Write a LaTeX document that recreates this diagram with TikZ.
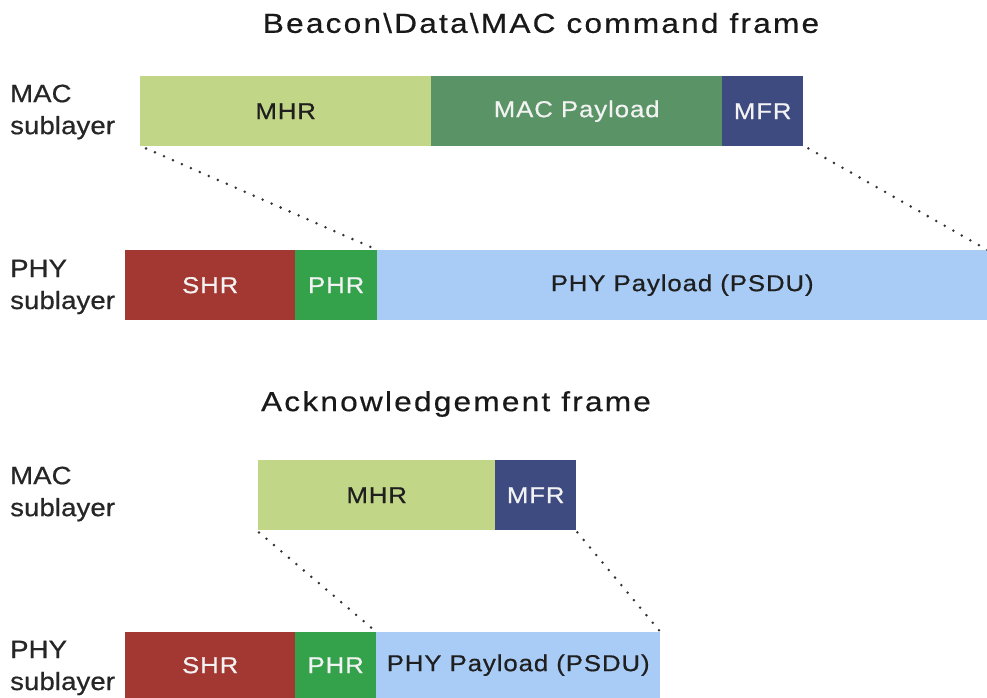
\documentclass[tikz,border=0pt]{standalone}
\usepackage{fontspec}
\setmainfont{Liberation Sans}
\newfontfamily\boxfont[FakeStretch=1.12,LetterSpace=4,FakeBold=0.6]{Liberation Sans}
\newfontfamily\labelfont[FakeStretch=1.1,LetterSpace=0.5,FakeBold=0.6]{Liberation Sans}
\newfontfamily\headfont[FakeStretch=1.15,LetterSpace=8,FakeBold=0.5]{Liberation Sans}
\begin{document}
\begin{tikzpicture}[x=1pt,y=-1pt,
  seg/.style={rectangle, draw=none, inner sep=0pt, anchor=north west,
    font=\boxfont\fontsize{23}{28}\selectfont},
  lightseg/.style={seg, text=black!88},
  darkseg/.style={seg, text=white!95!black},
  layerlabel/.style={anchor=west, align=left, inner sep=0pt,
    font=\labelfont\fontsize{25}{32}\selectfont, text=black!85},
  heading/.style={inner sep=0pt, font=\headfont\fontsize{27.5}{32}\selectfont, text=black!90},
  link/.style={draw=black!80, line width=2.8pt, line cap=round,
    dash pattern=on 0pt off 9.8pt}]
\definecolor{mhrC}{HTML}{C2D687}
\definecolor{payC}{HTML}{5A9466}
\definecolor{mfrC}{HTML}{3D4B80}
\definecolor{shrC}{HTML}{A33731}
\definecolor{phrC}{HTML}{33A24A}
\definecolor{psduC}{HTML}{A9CCF7}
\useasboundingbox (0,0) rectangle (987,698);
\fill[white] (0,0) rectangle (987,698);

% Beacon / data / MAC command frame
\node[heading] (t1) at (541,23) {Beacon\textbackslash Data\textbackslash MAC command frame};
\node[layerlabel] (mac1) at (10,112) {MAC\\sublayer};
\node[lightseg, fill=mhrC, minimum width=291pt, minimum height=70pt] (mhr1) at (140,76) {MHR};
\node[darkseg, fill=payC, minimum width=291pt, minimum height=70pt] (pay1) at (431,76) {MAC Payload};
\node[darkseg, fill=mfrC, minimum width=81pt, minimum height=70pt] (mfr1) at (722,76) {MFR};

\node[layerlabel] (phy1) at (10,287) {PHY\\sublayer};
\node[darkseg, fill=shrC, minimum width=170pt, minimum height=70pt] (shr1) at (125,250) {SHR};
\node[darkseg, fill=phrC, minimum width=82pt, minimum height=70pt] (phr1) at (295,250) {PHR};
\node[lightseg, fill=psduC, minimum width=610pt, minimum height=70pt] (psdu1) at (377,250) {PHY Payload (PSDU)};

\draw[link] ([xshift=6pt,yshift=-2pt]mhr1.south west) -- (phr1.north east);
\draw[link] ([xshift=5pt,yshift=-2pt]mfr1.south east) -- (psdu1.north east);

% Acknowledgement frame
\node[heading] (t2) at (456,404) {Acknowledgement frame};
\node[layerlabel] (mac2) at (10,494) {MAC\\sublayer};
\node[lightseg, fill=mhrC, minimum width=237pt, minimum height=70pt] (mhr2) at (258,460) {MHR};
\node[darkseg, fill=mfrC, minimum width=81pt, minimum height=70pt] (mfr2) at (495,460) {MFR};

\node[layerlabel] (phy2) at (10,668) {PHY\\sublayer};
\node[darkseg, fill=shrC, minimum width=170pt, minimum height=66pt] (shr2) at (125,632) {SHR};
\node[darkseg, fill=phrC, minimum width=81pt, minimum height=66pt] (phr2) at (295,632) {PHR};
\node[lightseg, fill=psduC, minimum width=284pt, minimum height=66pt] (psdu2) at (376,632) {PHY Payload (PSDU)};

\draw[link] ([xshift=1pt,yshift=-2pt]mhr2.south west) -- (phr2.north east);
\draw[link] ([xshift=1pt,yshift=-2pt]mfr2.south east) -- (psdu2.north east);
\end{tikzpicture}
\end{document}
